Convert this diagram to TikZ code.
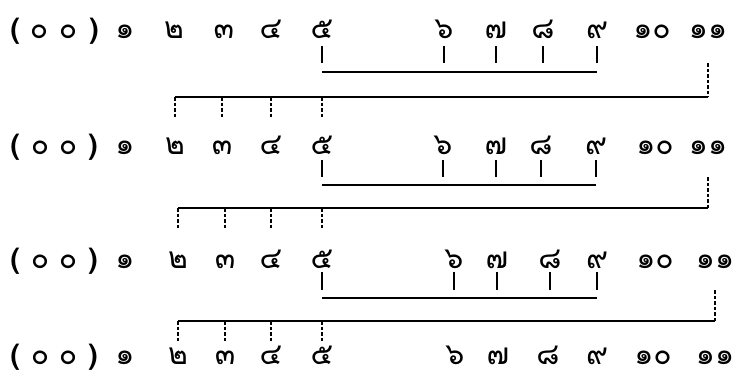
\documentclass[tikz,border=0pt]{standalone}
\usepackage{fontspec}
\newfontfamily\thaifont[Script=Thai]{Loma}
\usepackage{tikz}
\tikzstyle{glyph} = [inner sep=0pt, anchor=base, text depth=0pt, font=\thaifont\fontsize{30}{34}\selectfont]
\tikzstyle{paren} = [inner sep=0pt, anchor=base, text depth=0pt, font=\thaifont\bfseries\fontsize{28}{32}\selectfont]
\tikzstyle{tick} = [line width=1.3pt]
\tikzstyle{dtick} = [line width=1.3pt, dash pattern=on 3.5pt off 2pt]
\tikzstyle{bar} = [line width=1.3pt]

\begin{document}
\begin{tikzpicture}[x=1pt, y=-1pt]
			\useasboundingbox (0,0) rectangle (735,376);

			% row 1
			\node(r1lp) at (15, 38) [paren] {(};
			\node(r1z1) at (39, 38) [glyph] {๐};
			\node(r1z2) at (68, 38) [glyph] {๐};
			\node(r1rp) at (94, 38) [paren] {)};
			\node(r1d1) at (125, 38) [glyph] {๑};
			\node(r1d2) at (174, 38) [glyph] {๒};
			\node(r1d3) at (224, 38) [glyph] {๓};
			\node(r1d4) at (271, 38) [glyph] {๔};
			\node(r1d5) at (322, 38) [glyph] {๕};
			\node(r1d6) at (444, 38) [glyph] {๖};
			\node(r1d7) at (496, 38) [glyph] {๗};
			\node(r1d8) at (543, 38) [glyph] {๘};
			\node(r1d9) at (597, 38) [glyph] {๙};
			\node(r1d10) at (652, 38) [glyph] {๑๐};
			\node(r1d11) at (708, 38) [glyph] {๑๑};

			% row 2
			\node(r2lp) at (15, 154) [paren] {(};
			\node(r2z1) at (40, 154) [glyph] {๐};
			\node(r2z2) at (68, 154) [glyph] {๐};
			\node(r2rp) at (93, 154) [paren] {)};
			\node(r2d1) at (125, 154) [glyph] {๑};
			\node(r2d2) at (175, 154) [glyph] {๒};
			\node(r2d3) at (222, 154) [glyph] {๓};
			\node(r2d4) at (271, 154) [glyph] {๔};
			\node(r2d5) at (322, 154) [glyph] {๕};
			\node(r2d6) at (443, 154) [glyph] {๖};
			\node(r2d7) at (496, 154) [glyph] {๗};
			\node(r2d8) at (541, 154) [glyph] {๘};
			\node(r2d9) at (596, 154) [glyph] {๙};
			\node(r2d10) at (655, 154) [glyph] {๑๐};
			\node(r2d11) at (708, 154) [glyph] {๑๑};

			% row 3
			\node(r3lp) at (15, 268) [paren] {(};
			\node(r3z1) at (40, 268) [glyph] {๐};
			\node(r3z2) at (68, 268) [glyph] {๐};
			\node(r3rp) at (93, 268) [paren] {)};
			\node(r3d1) at (125, 268) [glyph] {๑};
			\node(r3d2) at (178, 268) [glyph] {๒};
			\node(r3d3) at (225, 268) [glyph] {๓};
			\node(r3d4) at (271, 268) [glyph] {๔};
			\node(r3d5) at (322, 268) [glyph] {๕};
			\node(r3d6) at (454, 268) [glyph] {๖};
			\node(r3d7) at (497, 268) [glyph] {๗};
			\node(r3d8) at (550, 268) [glyph] {๘};
			\node(r3d9) at (597, 268) [glyph] {๙};
			\node(r3d10) at (655, 268) [glyph] {๑๐};
			\node(r3d11) at (715, 268) [glyph] {๑๑};

			% row 4
			\node(r4lp) at (15, 364) [paren] {(};
			\node(r4z1) at (40, 364) [glyph] {๐};
			\node(r4z2) at (68, 364) [glyph] {๐};
			\node(r4rp) at (93, 364) [paren] {)};
			\node(r4d1) at (125, 364) [glyph] {๑};
			\node(r4d2) at (178, 364) [glyph] {๒};
			\node(r4d3) at (225, 364) [glyph] {๓};
			\node(r4d4) at (271, 364) [glyph] {๔};
			\node(r4d5) at (322, 364) [glyph] {๕};
			\node(r4d6) at (455, 364) [glyph] {๖};
			\node(r4d7) at (498, 364) [glyph] {๗};
			\node(r4d8) at (548, 364) [glyph] {๘};
			\node(r4d9) at (597, 364) [glyph] {๙};
			\node(r4d10) at (653, 364) [glyph] {๑๐};
			\node(r4d11) at (715, 364) [glyph] {๑๑};

			% levels of the brackets
			\coordinate(t1a) at (0, 46);  \coordinate(t1b) at (0, 63);
			\coordinate(u1) at (0, 72);   \coordinate(l1) at (0, 97);
			\coordinate(e1) at (0, 118);
			\coordinate(t2a) at (0, 160); \coordinate(t2b) at (0, 177);
			\coordinate(u2) at (0, 185);  \coordinate(l2) at (0, 208);
			\coordinate(e2) at (0, 229);
			\coordinate(t3a) at (0, 272); \coordinate(t3b) at (0, 290);
			\coordinate(u3) at (0, 298);  \coordinate(l3) at (0, 321);
			\coordinate(e3) at (0, 342);

			% row 1 -> row 2
			\draw [tick] (r1d5 |- t1a) -- (r1d5 |- t1b);
			\draw [tick] (r1d6 |- t1a) -- (r1d6 |- t1b);
			\draw [tick] (r1d7 |- t1a) -- (r1d7 |- t1b);
			\draw [tick] (r1d8 |- t1a) -- (r1d8 |- t1b);
			\draw [tick] (r1d9 |- t1a) -- (r1d9 |- t1b);
			\draw [bar] (r1d5 |- u1) -- (r1d9 |- u1);
			\draw [dtick] (r1d11 |- t1b) -- (r1d11 |- l1);
			\draw [bar] (r1d11 |- l1) -- (r2d2 |- l1);
			\draw [dtick] (r2d2 |- l1) -- (r2d2 |- e1);
			\draw [dtick] (r2d3 |- l1) -- (r2d3 |- e1);
			\draw [dtick] (r2d4 |- l1) -- (r2d4 |- e1);
			\draw [dtick] (r2d5 |- l1) -- (r2d5 |- e1);

			% row 2 -> row 3
			\draw [tick] (r2d5 |- t2a) -- (r2d5 |- t2b);
			\draw [tick] (r2d6 |- t2a) -- (r2d6 |- t2b);
			\draw [tick] (r2d7 |- t2a) -- (r2d7 |- t2b);
			\draw [tick] (r2d8 |- t2a) -- (r2d8 |- t2b);
			\draw [tick] (r2d9 |- t2a) -- (r2d9 |- t2b);
			\draw [bar] (r2d5 |- u2) -- (r2d9 |- u2);
			\draw [dtick] (r2d11 |- t2b) -- (r2d11 |- l2);
			\draw [bar] (r2d11 |- l2) -- (r3d2 |- l2);
			\draw [dtick] (r3d2 |- l2) -- (r3d2 |- e2);
			\draw [dtick] (r3d3 |- l2) -- (r3d3 |- e2);
			\draw [dtick] (r3d4 |- l2) -- (r3d4 |- e2);
			\draw [dtick] (r3d5 |- l2) -- (r3d5 |- e2);

			% row 3 -> row 4
			\draw [tick] (r3d5 |- t3a) -- (r3d5 |- t3b);
			\draw [tick] (r3d6 |- t3a) -- (r3d6 |- t3b);
			\draw [tick] (r3d7 |- t3a) -- (r3d7 |- t3b);
			\draw [tick] (r3d8 |- t3a) -- (r3d8 |- t3b);
			\draw [tick] (r3d9 |- t3a) -- (r3d9 |- t3b);
			\draw [bar] (r3d5 |- u3) -- (r3d9 |- u3);
			\draw [dtick] (r3d11 |- t3b) -- (r3d11 |- l3);
			\draw [bar] (r3d11 |- l3) -- (r4d2 |- l3);
			\draw [dtick] (r4d2 |- l3) -- (r4d2 |- e3);
			\draw [dtick] (r4d3 |- l3) -- (r4d3 |- e3);
			\draw [dtick] (r4d4 |- l3) -- (r4d4 |- e3);
			\draw [dtick] (r4d5 |- l3) -- (r4d5 |- e3);
		\end{tikzpicture}
\end{document}
